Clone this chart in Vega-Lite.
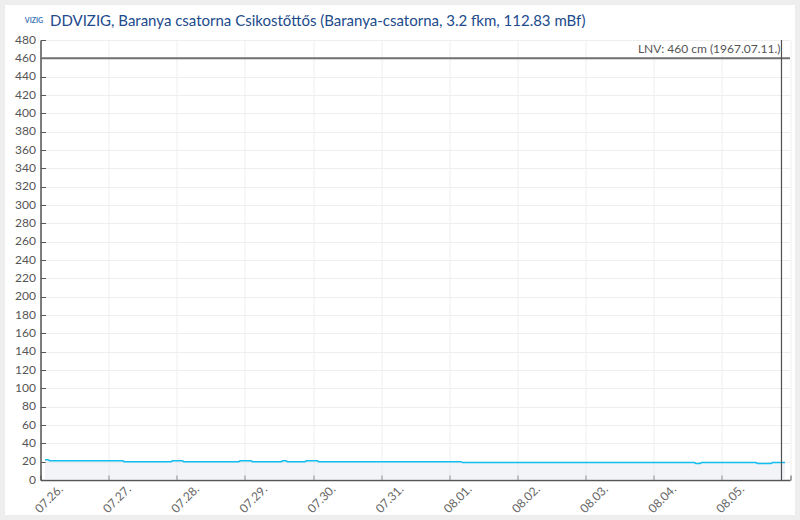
{"$schema":"https://vega.github.io/schema/vega-lite/v6.json","width":749.5,"height":440,"autosize":"none","padding":{"left":40.5,"top":40,"right":10,"bottom":40},"background":"white","view":{"stroke":null},"config":{"font":"Lato"},
"data":{"values":[
{"t":"2024-07-26T01:35:00","v":22},{"t":"2024-07-26T02:40:00","v":22},{"t":"2024-07-26T03:10:00","v":21},{"t":"2024-07-26T16:00:00","v":21},{"t":"2024-07-27T05:00:00","v":21},{"t":"2024-07-27T05:30:00","v":20},{"t":"2024-07-27T22:00:00","v":20},{"t":"2024-07-27T22:30:00","v":21},{"t":"2024-07-28T02:00:00","v":21},{"t":"2024-07-28T02:30:00","v":20},{"t":"2024-07-28T21:50:00","v":20},{"t":"2024-07-28T22:20:00","v":21},{"t":"2024-07-29T02:10:00","v":21},{"t":"2024-07-29T02:40:00","v":20},{"t":"2024-07-29T12:50:00","v":20},{"t":"2024-07-29T13:20:00","v":21},{"t":"2024-07-29T14:30:00","v":21},{"t":"2024-07-29T15:00:00","v":20},{"t":"2024-07-29T21:10:00","v":20},{"t":"2024-07-29T21:40:00","v":21},{"t":"2024-07-30T01:30:00","v":21},{"t":"2024-07-30T02:00:00","v":20},{"t":"2024-07-31T00:00:00","v":20},{"t":"2024-08-01T04:10:00","v":20},{"t":"2024-08-01T04:40:00","v":19},{"t":"2024-08-03T00:00:00","v":19},{"t":"2024-08-04T14:20:00","v":19},{"t":"2024-08-04T14:50:00","v":18},{"t":"2024-08-04T16:20:00","v":18},{"t":"2024-08-04T16:50:00","v":19},{"t":"2024-08-05T12:00:00","v":19},{"t":"2024-08-05T12:30:00","v":18},{"t":"2024-08-05T17:20:00","v":18},{"t":"2024-08-05T17:50:00","v":19},{"t":"2024-08-05T22:14:00","v":19}
]},
"layer":[
{"mark":{"type":"area","fill":"#dfe3ee","fillOpacity":0.4,"clip":false},"encoding":{
"x":{"field":"t","type":"temporal","title":null,"scale":{"domain":["2024-07-26T00:00:00","2024-08-06T00:00:00"]},"axis":{"tickCount":12,"values":["2024-07-26T00:00:00","2024-07-27T00:00:00","2024-07-28T00:00:00","2024-07-29T00:00:00","2024-07-30T00:00:00","2024-07-31T00:00:00","2024-08-01T00:00:00","2024-08-02T00:00:00","2024-08-03T00:00:00","2024-08-04T00:00:00","2024-08-05T00:00:00","2024-08-06T00:00:00"],"labelExpr":"month(datum.value)==7&&date(datum.value)==6?'':timeFormat(datum.value,'%m.%d.')","grid":true,"gridColor":"#eeeeee","gridWidth":1,"domainColor":"#555555","domainWidth":1.5,"tickColor":"#555555","tickSize":-5,"tickWidth":1,"labelAngle":-45,"labelAlign":"center","labelBaseline":"middle","labelOffset":8,"labelPadding":23.5,"labelColor":"#666666","labelFont":"Lato","labelFontSize":12,"labelBound":false,"labelFlush":false,"labelOverlap":false}},
"y":{"field":"v","type":"quantitative","title":null,"scale":{"domain":[0,480],"nice":false},"axis":{"tickCount":25,"values":[0,20,40,60,80,100,120,140,160,180,200,220,240,260,280,300,320,340,360,380,400,420,440,460,480],"grid":true,"gridColor":"#eeeeee","gridWidth":1,"domainColor":"#555555","domainWidth":1.5,"tickColor":"#555555","tickSize":-5,"tickWidth":1,"labelColor":"#555555","labelFont":"Lato","labelFontSize":12,"labelPadding":10,"labelOffset":-1,"labelOverlap":false,"labelBound":false,"labelFlush":false}}}},
{"mark":{"type":"line","color":"#12bdf0","strokeWidth":1.5},"encoding":{"x":{"field":"t","type":"temporal"},"y":{"field":"v","type":"quantitative"}}},
{"data":{"values":[{"v":460,"label":"LNV: 460 cm (1967.07.11.)","t":"2024-08-05T21:00:00"}]},"layer":[
{"mark":{"type":"rule","color":"#707070","strokeWidth":2},"encoding":{"y":{"field":"v","type":"quantitative"}}},
{"mark":{"type":"rule","color":"#505050","strokeWidth":1.2},"encoding":{"x":{"field":"t","type":"temporal"}}},
{"mark":{"type":"text","align":"right","baseline":"middle","dx":-1,"dy":-9.5,"font":"Lato","fontSize":12,"color":"#555555"},"encoding":{"x":{"field":"t","type":"temporal"},"y":{"field":"v","type":"quantitative"},"text":{"field":"label"}}}
]},
{"data":{"values":[{"logo":"VIZIG","t":"2024-07-25T21:43:00","v":501}]},"mark":{"type":"text","clip":false,"font":"Lato","fontSize":7,"fontWeight":"bold","color":"#3f78b8"},"encoding":{"x":{"field":"t","type":"temporal"},"y":{"field":"v","type":"quantitative"},"text":{"field":"logo"}}},
{"data":{"values":[{"title":"DDVIZIG, Baranya csatorna Csikostőttős (Baranya-csatorna, 3.2 fkm, 112.83 mBf)","t":"2024-07-26T03:21:00","v":500.7}]},"mark":{"type":"text","clip":false,"align":"left","baseline":"middle","font":"Lato","fontSize":15,"color":"#214a8c"},"encoding":{"x":{"field":"t","type":"temporal"},"y":{"field":"v","type":"quantitative"},"text":{"field":"title"}}},
{"data":{"values":[{"t0":"2024-07-25T10:37:00","t1":"2024-08-06T02:38:00","y0":520.9,"y1":-40.9}]},"mark":{"type":"rect","fillOpacity":0,"stroke":"#eeeeee","strokeWidth":5,"clip":false},"encoding":{"x":{"field":"t0","type":"temporal"},"x2":{"field":"t1"},"y":{"field":"y0","type":"quantitative"},"y2":{"field":"y1"}}}
]}
